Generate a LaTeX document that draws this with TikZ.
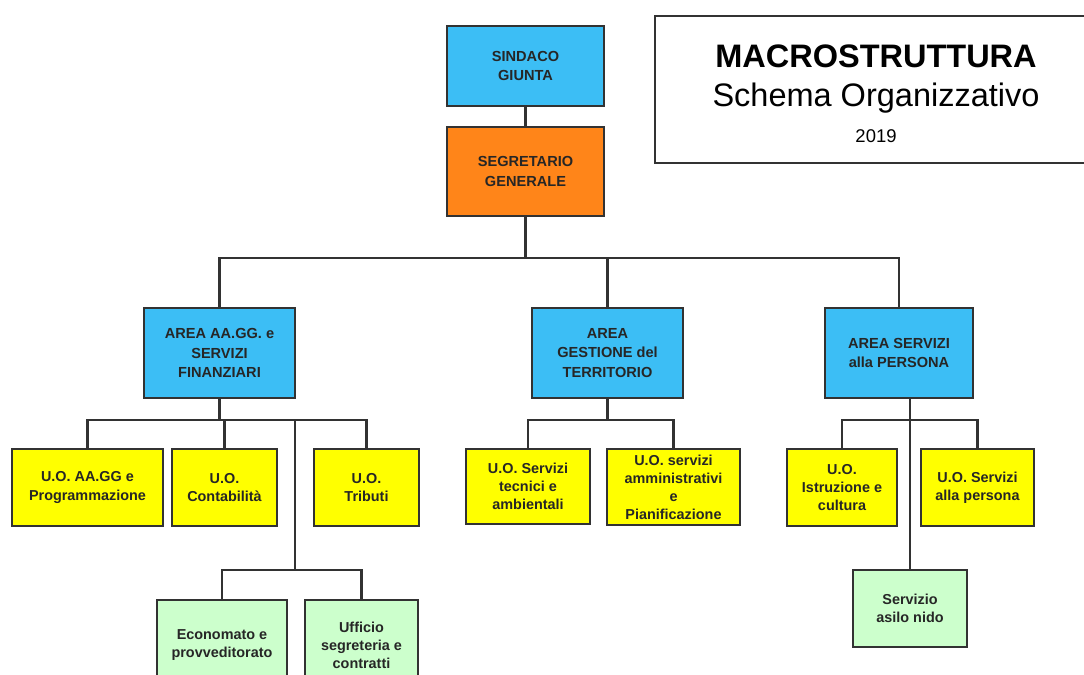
\documentclass[tikz,border=0pt]{standalone}
\usepackage{fontspec}
\setmainfont{Liberation Sans}
\definecolor{azzurro}{RGB}{60,190,245}
\definecolor{arancio}{RGB}{255,133,25}
\definecolor{giallo}{RGB}{255,255,0}
\definecolor{verdino}{RGB}{204,255,204}
\definecolor{bordo}{RGB}{50,50,50}
\begin{document}
\begin{tikzpicture}[x=0.02cm, y=-0.02cm,
    box/.style={draw=bordo, line width=1.1pt, inner sep=0pt, align=center,
                font=\bfseries\fontsize{8.3}{11}\selectfont, text=black!85},
    uo/.style={box, font=\bfseries\fontsize{8.2}{10.3}\selectfont},
    link/.style={draw=bordo, line width=1.3pt}]
    \useasboundingbox (0,0) rectangle (1084,675);

    % Titolo
    \draw[bordo, line width=1pt] (1100,16) -- (655,16) -- (655,163) -- (1100,163);
    \node (tit1) at (876,56)  {\bfseries\fontsize{18.5}{20}\selectfont MACROSTRUTTURA};
    \node (tit2) at (876,98)  {\fontsize{18.5}{20}\selectfont Schema Organizzativo};
    \node (tit3) at (876,136) {\fontsize{10.5}{12}\selectfont 2019};

    % Vertice
    \node[box, fill=azzurro, minimum width=3.14cm, minimum height=1.6cm]  (sind) at (525.5,66)  {SINDACO\\GIUNTA};
    \node[box, fill=arancio, minimum width=3.14cm, minimum height=1.78cm] (seg)  at (525.5,171.5) {SEGRETARIO\\GENERALE};

    % Aree
    \node[box, fill=azzurro, minimum width=3.02cm, minimum height=1.8cm] (afin)  at (219.5,353) {AREA AA.GG. e\\SERVIZI\\FINANZIARI};
    \node[box, fill=azzurro, minimum width=3.02cm, minimum height=1.8cm] (agest) at (607.5,353) {AREA\\GESTIONE del\\TERRITORIO};
    \node[box, fill=azzurro, minimum width=2.96cm, minimum height=1.8cm] (apers) at (899,353)   {AREA SERVIZI\\alla PERSONA};

    % Unita' operative
    \node[uo, fill=giallo, minimum width=3.02cm, minimum height=1.54cm] (uoaagg) at (87.5,487.5)  {U.O. AA.GG e\\Programmazione};
    \node[uo, fill=giallo, minimum width=2.1cm,  minimum height=1.54cm] (uocont) at (224.5,487.5) {U.O.\\Contabilità};
    \node[uo, fill=giallo, minimum width=2.1cm,  minimum height=1.54cm] (uotrib) at (366.5,487.5) {U.O.\\Tributi};
    \node[uo, fill=giallo, minimum width=2.48cm, minimum height=1.5cm]  (uotec)  at (528,486.5)   {U.O. Servizi\\tecnici e\\ambientali};
    \node[uo, fill=giallo, minimum width=2.66cm, minimum height=1.52cm] (uoamm)  at (673.5,487)   {U.O. servizi\\amministrativi\\e\\Pianificazione};
    \node[uo, fill=giallo, minimum width=2.2cm,  minimum height=1.54cm] (uoistr) at (842,487.5)   {U.O.\\Istruzione e\\cultura};
    \node[uo, fill=giallo, minimum width=2.26cm, minimum height=1.54cm] (uopers) at (977.5,487.5) {U.O. Servizi\\alla persona};

    % Servizi
    \node[uo, fill=verdino, minimum width=2.6cm,  minimum height=1.8cm]  (econ)  at (222,645)    {Economato e\\provveditorato};
    \node[uo, fill=verdino, minimum width=2.26cm, minimum height=1.8cm]  (uffsc) at (361.5,645)  {Ufficio\\segreteria e\\contratti};
    \node[uo, fill=verdino, minimum width=2.28cm, minimum height=1.54cm] (asilo) at (910,608.5)  {Servizio\\asilo nido};

    % Collegamenti
    \coordinate (busA) at (0,258);
    \coordinate (busB) at (0,420);
    \coordinate (nodoF) at (295,420);
    \coordinate (busC) at (0,570);

    \draw[link] (sind.south) -- (seg.north);
    \draw[link] (seg.south) -- (seg.south |- busA);
    \draw[link] (afin.north) -- (afin.north |- busA) -- (apers.north |- busA) -- (apers.north);
    \draw[link] (agest.north) -- (agest.north |- busA);

    \draw[link] (afin.south) -- (afin.south |- busB);
    \draw[link] (uoaagg.north) -- (uoaagg.north |- busB) -- (uotrib.north |- busB) -- (uotrib.north);
    \draw[link] (uocont.north) -- (uocont.north |- busB);
    \draw[link] (nodoF) -- (nodoF |- busC);
    \draw[link] (econ.north) -- (econ.north |- busC) -- (uffsc.north |- busC) -- (uffsc.north);

    \draw[link] (agest.south) -- (agest.south |- busB);
    \draw[link] (uotec.north) -- (uotec.north |- busB) -- (uoamm.north |- busB) -- (uoamm.north);

    \draw[link] (asilo.north) -- (asilo.north |- apers.south);
    \draw[link] (uoistr.north) -- (uoistr.north |- busB) -- (uopers.north |- busB) -- (uopers.north);
\end{tikzpicture}
\end{document}
